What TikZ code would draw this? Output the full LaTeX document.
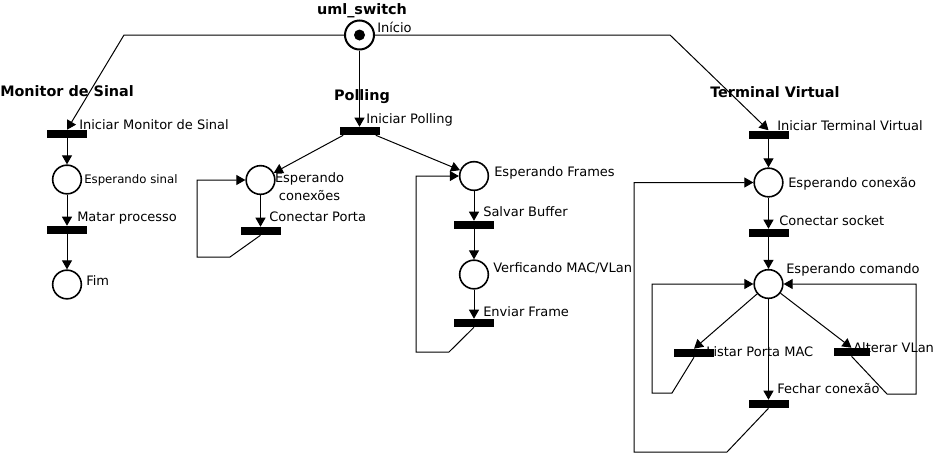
\documentclass[tikz,border=0pt]{standalone}
\usepackage{fontspec}
\setmainfont{DejaVu Sans}
\usetikzlibrary{arrows.meta}
\newcommand\lblfont{\fontsize{9.75}{11.7}\selectfont}
\newcommand\ttlfont{\fontsize{10.8}{13}\selectfont\bfseries}
\newcommand\smfont{\fontsize{8.8}{10.5}\selectfont}
\begin{document}
\begin{tikzpicture}[x=0.75pt,y=-0.75pt,
  place/.style={circle,draw,line width=1.2pt,minimum size=21.5pt,inner sep=0pt},
  startplace/.style={circle,draw,line width=1.5pt,minimum size=21.75pt,inner sep=0pt},
  token/.style={circle,fill=black,minimum size=8.25pt,inner sep=0pt},
  trans/.style={rectangle,fill=black,minimum width=30pt,minimum height=6pt,inner sep=0pt},
  arc/.style={line width=0.75pt,-{Triangle[length=6.75pt,width=7.5pt]}},
  lbl/.style={inner sep=0pt,anchor=base west,font=\lblfont},
  smlbl/.style={inner sep=0pt,anchor=base west,font=\smfont},
  ttl/.style={inner sep=0pt,anchor=base,font=\ttlfont},
]
\useasboundingbox (0,0) rectangle (936,454);

% places
\node[startplace] (pStart) at (359.5,35) {};
\node[token] (pStartTok) at (359.5,35) {};
\node[place] (pEspSinal) at (67,179.5) {};
\node[place] (pFim) at (67,284.5) {};
\node[place] (pEspConexoes) at (260.5,180) {};
\node[place] (pEspFrames) at (474,176) {};
\node[place] (pVerif) at (474,274.5) {};
\node[place] (pEspConexao) at (768.5,182.5) {};
\node[place] (pEspComando) at (768.5,284) {};

% transitions
\node[trans] (tIniMon) at (67,134) {};
\node[trans] (tMatar) at (67,230) {};
\node[trans] (tIniPol) at (359.5,131) {};
\node[trans] (tConPorta) at (260.5,231) {};
\node[trans] (tSalvar) at (474,225) {};
\node[trans] (tEnviar) at (474,323) {};
\node[trans] (tIniTerm) at (768.5,134.5) {};
\node[trans] (tConSocket) at (768.5,233) {};
\node[trans] (tListar) at (694,353) {};
\node[trans,minimum width=27pt] (tAlterar) at (851.5,352) {};
\node[trans] (tFechar) at (768.5,404) {};

% titles
\node[ttl] (ttlSwitch) at (362,14) {uml\_switch};
\node[ttl,anchor=base west] (ttlMon) at (0,96) {Monitor de Sinal};
\node[ttl] (ttlPol) at (362,100) {Polling};
\node[ttl,anchor=base west] (ttlTerm) at (710,97) {Terminal Virtual};

% labels
\node[lbl] (lInicio) at (377,32) {Início};
\node[lbl] (lIniMon) at (79,129) {Iniciar Monitor de Sinal};
\node[lbl] (lIniPol) at (366,123) {Iniciar Polling};
\node[lbl] (lIniTerm) at (777,130) {Iniciar Terminal Virtual};
\node[smlbl] (lEspSinal) at (84,183) {Esperando sinal};
\node[lbl] (lMatar) at (77,221) {Matar processo};
\node[lbl] (lFim) at (86,285) {Fim};
\node[lbl,anchor=base] (lEspConA) at (309.5,182) {Esperando};
\node[lbl,anchor=base] (lEspConB) at (309.5,200) {conexões};
\node[lbl] (lConPorta) at (269,221) {Conectar Porta};
\node[lbl] (lEspFrames) at (494,176) {Esperando Frames};
\node[lbl] (lSalvar) at (483,216) {Salvar Buffer};
\node[lbl] (lVerif) at (493,272) {Verficando MAC/VLan};
\node[lbl] (lEnviar) at (483,316) {Enviar Frame};
\node[lbl] (lEspConexao) at (788,187) {Esperando conexão};
\node[lbl] (lConSocket) at (779,225) {Conectar socket};
\node[lbl] (lEspComando) at (786,273) {Esperando comando};
\node[lbl] (lListar) at (706,356) {Listar Porta MAC};
\node[lbl] (lAlterar) at (853,352) {Alterar VLan};
\node[lbl] (lFechar) at (777,393) {Fechar conexão};

% bend coordinates
\coordinate (cMon) at (124,35);
\coordinate (cTerm) at (670,35);
\coordinate (cCP1) at (230,257);
\coordinate (cCP2) at (197,257);
\coordinate (cCP3) at (197,180);
\coordinate (cEF1) at (449,352);
\coordinate (cEF2) at (416,352);
\coordinate (cEF3) at (416,176);
\coordinate (cLP1) at (672,393);
\coordinate (cLP2) at (652,393);
\coordinate (cLP3) at (652,284);
\coordinate (cAV1) at (887,394);
\coordinate (cAV2) at (916,394);
\coordinate (cAV3) at (916,284);
\coordinate (cFC1) at (727,452);
\coordinate (cFC2) at (634,452);
\coordinate (cFC3) at (634,182.5);

% arcs from start
\draw[arc] (pStart.west) -- (cMon) -- (tIniMon.north);
\draw[arc] (pStart.south) -- (tIniPol.north);
\draw[arc] (pStart.east) -- (cTerm) -- (tIniTerm.north);

% monitor
\draw[arc] (tIniMon.south) -- (pEspSinal.north);
\draw[arc] (pEspSinal.south) -- (tMatar.north);
\draw[arc] (tMatar.south) -- (pFim.north);

% polling
\draw[arc] ([xshift=3pt]tIniPol.south west) -- (pEspConexoes);
\draw[arc] ([xshift=-3pt]tIniPol.south east) -- (pEspFrames);
\draw[arc] (pEspConexoes.south) -- (tConPorta.north);
\draw[arc] (tConPorta.south) -- (cCP1) -- (cCP2) -- (cCP3) -- (pEspConexoes.west);
\draw[arc] (pEspFrames.south) -- (tSalvar.north);
\draw[arc] (tSalvar.south) -- (pVerif.north);
\draw[arc] (pVerif.south) -- (tEnviar.north);
\draw[arc] (tEnviar.south) -- (cEF1) -- (cEF2) -- (cEF3) -- (pEspFrames.west);

% terminal
\draw[arc] (tIniTerm.south) -- (pEspConexao.north);
\draw[arc] (pEspConexao.south) -- (tConSocket.north);
\draw[arc] (tConSocket.south) -- (pEspComando.north);
\draw[arc] (pEspComando) -- (tListar.north);
\draw[arc] (pEspComando) -- (tAlterar.north);
\draw[arc] (pEspComando.south) -- (tFechar.north);
\draw[arc] (tListar.south) -- (cLP1) -- (cLP2) -- (cLP3) -- (pEspComando.west);
\draw[arc] (tAlterar.south) -- (cAV1) -- (cAV2) -- (cAV3) -- (pEspComando.east);
\draw[arc] (tFechar.south) -- (cFC1) -- (cFC2) -- (cFC3) -- (pEspConexao.west);
\end{tikzpicture}
\end{document}
